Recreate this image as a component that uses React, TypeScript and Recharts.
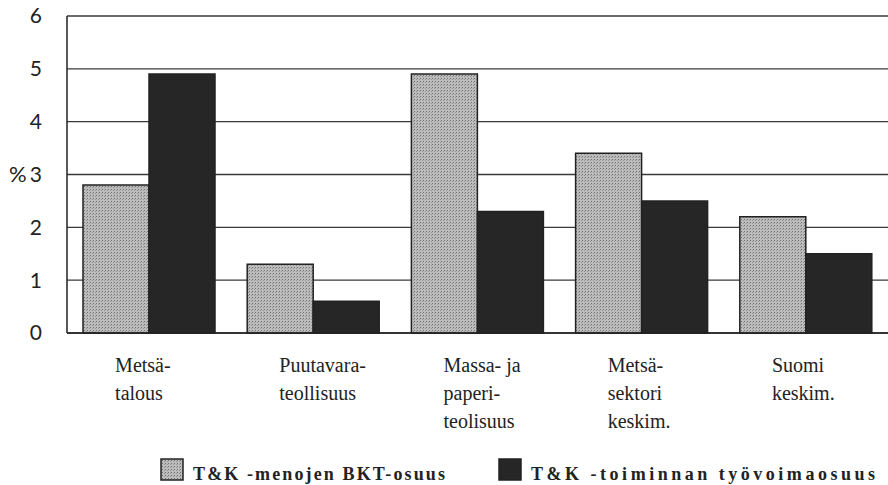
import { BarChart, Bar, XAxis, YAxis, CartesianGrid } from "recharts";

const categories = [
  ["Metsä-", "talous"],
  ["Puutavara-", "teollisuus"],
  ["Massa- ja", "paperi-", "teolisuus"],
  ["Metsä-", "sektori", "keskim."],
  ["Suomi", "keskim."],
];
const bktShare = [2.8, 1.3, 4.9, 3.4, 2.2];
const workforceShare = [4.9, 0.6, 2.3, 2.5, 1.5];
const yTicks = [0, 1, 2, 3, 4, 5, 6];

const seriesNames = ["T&K -menojen BKT-osuus", "T&K -toiminnan työvoimaosuus"];

const data = categories.map((lines, i) => ({
  name: lines.join(" "),
  bkt: bktShare[i],
  work: workforceShare[i],
}));

const FONT = '"Liberation Serif", "Times New Roman", serif';
const AXIS_FONT = 'Lato, "Open Sans", sans-serif';
const INK = "#222";

function CategoryTick({ x, y, payload, index }: any) {
  const lines = categories[index ?? 0] ?? [String(payload?.value ?? "")];
  return (
    <g>
      {lines.map((line: string, i: number) => (
        <text
          key={i}
          x={x - 34}
          y={y + 31 + i * 28}
          textAnchor="start"
          fontFamily={FONT}
          fontSize={20}
          fill={INK}
        >
          {line}
        </text>
      ))}
    </g>
  );
}

function Stipple({ id }: { id: string }) {
  return (
    <pattern id={id} width="3" height="3" patternUnits="userSpaceOnUse">
      <rect width="3" height="3" fill="#bdbdbd" />
      <rect x="0" y="0" width="1" height="1" fill="#6f6f6f" />
      <rect x="2" y="1" width="1" height="1" fill="#929292" />
    </pattern>
  );
}

// legend drawn outside the chart so it doesn't eat into the plot height
function LegendBox() {
  const items = [
    { label: seriesNames[0], fill: "url(#stipple2)", x: 161, tx: 193, len: 252 },
    { label: seriesNames[1], fill: "#262626", x: 499, tx: 531, len: 344 },
  ];
  return (
    <svg width={888} height={34} style={{ position: "absolute", left: 0, top: 451 }}>
      <defs>
        <Stipple id="stipple2" />
      </defs>
      {items.map((it) => (
        <g key={it.label}>
          <rect x={it.x} y={8} width={22} height={21} fill={it.fill} stroke={INK} strokeWidth={1.5} />
          <text
            x={it.tx}
            y={29}
            fontFamily={FONT}
            fontSize={18}
            fontWeight="bold"
            textLength={it.len}
            lengthAdjust="spacing"
            fill={INK}
          >
            {it.label}
          </text>
        </g>
      ))}
    </svg>
  );
}

export default function App() {
  return (
    <div style={{ position: "absolute", left: 0, top: 0, width: 888, height: 485, background: "#fff" }}>
      <BarChart
        width={888}
        height={485}
        data={data}
        margin={{ top: 16, right: 0, left: 0, bottom: 42 }}
        barCategoryGap={16}
        barGap={0}
      >
        <defs>
          <Stipple id="stipple" />
        </defs>
        <CartesianGrid vertical={false} stroke="#3a3a3a" strokeWidth={1.3} />
        <XAxis
          dataKey="name"
          height={110}
          tickLine={false}
          axisLine={{ stroke: INK, strokeWidth: 1.5 }}
          tick={<CategoryTick />}
          interval={0}
        />
        <YAxis
          width={67}
          domain={[0, 6]}
          ticks={yTicks}
          tickLine={false}
          axisLine={{ stroke: INK, strokeWidth: 1.5 }}
          tickMargin={19}
          tick={{ fontFamily: AXIS_FONT, fontSize: 21, fill: INK }}
          label={{ value: "%", position: "insideLeft", offset: 9, fontFamily: AXIS_FONT, fontSize: 22, fill: INK }}
        />
        <Bar dataKey="bkt" name={seriesNames[0]} fill="url(#stipple)" stroke={INK} strokeWidth={1.5} isAnimationActive={false} />
        <Bar dataKey="work" name={seriesNames[1]} fill="#262626" stroke={INK} strokeWidth={1.5} isAnimationActive={false} />
      </BarChart>
      <LegendBox />
    </div>
  );
}
